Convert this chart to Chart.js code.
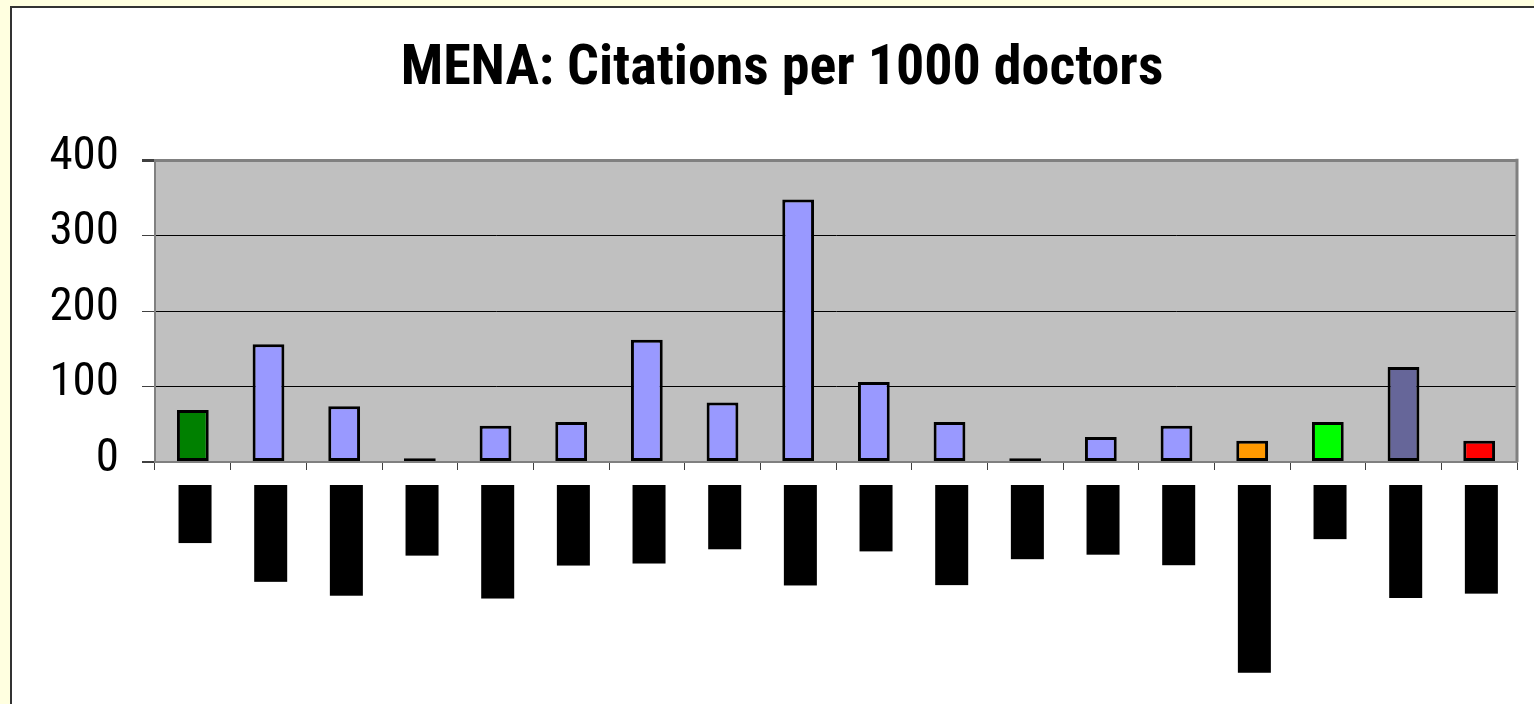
<!DOCTYPE html>
<html>
<head>
<meta charset="utf-8">
<title>MENA: Citations per 1000 doctors</title>
<script src="https://cdn.jsdelivr.net/npm/chart.js@4.4.1/dist/chart.umd.min.js"></script>
<style>
    html, body { margin: 0; padding: 0; width: 1534px; height: 704px; overflow: hidden; background: #FFFFE0; }
    #panel { position: absolute; left: 10px; top: 6px; width: 1522px; height: 696px; border: 2px solid #333; background: #fff; }
    #citationsChart { display: block; }
</style>
</head>
<body>
<div id="panel">
    <canvas id="citationsChart" width="1522" height="696"></canvas>
</div>
<script>
// chart values
var countries = ['MENA', 'Mauritania', 'Yemen, Rep.', 'Djibouti', 'Saudi Arabia', 'Morocco', 'Lebanon', 'Jordan', 'Palestinian',
    'Tunisia', 'Egypt, Rep.', 'Somalia', 'Bahrain', 'Emirates', 'Upper middle income', 'World', 'High income', 'Low income'];
var citations = [69, 156, 74, 5, 48, 53, 162, 79, 348, 106, 53, 5, 33, 48, 28, 53, 126, 28];
var yTicks = [0, 100, 200, 300, 400];

var barColors = ['#008000', '#9999FF', '#9999FF', '#9999FF', '#9999FF', '#9999FF', '#9999FF', '#9999FF', '#9999FF',
    '#9999FF', '#9999FF', '#9999FF', '#9999FF', '#9999FF', '#FF9900', '#00FF00', '#666699', '#FF0000'];

var narrow = "'Roboto Condensed', 'Liberation Sans', sans-serif";

// grey plot area + right edge line
var plotBackground = {
    id: 'plotBackground',
    beforeDraw: function (chart) {
        var a = chart.chartArea;
        var ctx = chart.ctx;
        ctx.save();
        ctx.fillStyle = '#C0C0C0';
        ctx.fillRect(a.left, a.top, a.right - a.left, a.bottom - a.top);
        ctx.restore();
    },
    afterDraw: function (chart) {
        var a = chart.chartArea;
        var ctx = chart.ctx;
        ctx.save();
        ctx.strokeStyle = '#808080';
        ctx.lineWidth = 3;
        ctx.beginPath();
        ctx.moveTo(a.right, a.top - 1.5);
        ctx.lineTo(a.right, a.bottom);
        ctx.stroke();
        ctx.restore();
    }
};

function CitationsChart() {
    var path = document.getElementById('citationsChart');
    new Chart(path, {
        type: 'bar',
        data: {
            labels: countries,
            datasets: [{
                label: 'Citations per 1000 doctors',
                data: citations,
                backgroundColor: barColors,
                borderColor: '#000',
                borderWidth: 3,
                borderSkipped: false,
                barPercentage: 0.42,
                categoryPercentage: 1
            }]
        },
        options: {
            responsive: false,
            animation: false,
            layout: {
                padding: { left: 35, right: 17, top: 0, bottom: 0 }
            },
            plugins: {
                legend: { display: false },
                tooltip: { enabled: false },
                title: {
                    display: true,
                    text: 'MENA: Citations per 1000 doctors',
                    color: '#000',
                    font: { family: narrow, size: 56, weight: 'bold' },
                    padding: { top: 28, bottom: 57 }
                }
            },
            scales: {
                x: {
                    offset: true,
                    grid: {
                        offset: true,
                        drawOnChartArea: false,
                        tickLength: 8,
                        tickColor: '#404040'
                    },
                    border: { color: '#808080', width: 2 },
                    ticks: {
                        autoSkip: false,
                        maxRotation: 90,
                        minRotation: 90,
                        padding: 17,
                        labelOffset: -11,
                        color: '#000',
                        font: { family: narrow, size: 22 },
                        // labels show as solid black blocks, as in the original
                        showLabelBackdrop: true,
                        backdropColor: '#000',
                        backdropPadding: { top: 3.3, bottom: 3.3, left: 2, right: 2 }
                    },
                    afterFit: function (scale) { scale.height = 242; }
                },
                y: {
                    min: 0,
                    max: 400,
                    afterBuildTicks: function (scale) {
                        scale.ticks = yTicks.map(function (v) { return { value: v }; });
                    },
                    grid: {
                        color: function (c) {
                            if (c.tick.value === 400) return '#808080';
                            if (c.tick.value === 0) return '#808080';
                            return '#000';
                        },
                        lineWidth: function (c) {
                            if (c.tick.value === 400) return 3;
                            if (c.tick.value === 0) return 2;
                            return 1;
                        },
                        tickLength: 13,
                        tickColor: '#404040'
                    },
                    border: { color: '#808080', width: 2 },
                    ticks: {
                        padding: 23,
                        labelOffset: -3,
                        color: '#000',
                        font: { family: narrow, size: 47 }
                    },
                    afterFit: function (scale) { scale.width = 108; }
                }
            }
        },
        plugins: [plotBackground]
    });
}

CitationsChart();
</script>
</body>
</html>
